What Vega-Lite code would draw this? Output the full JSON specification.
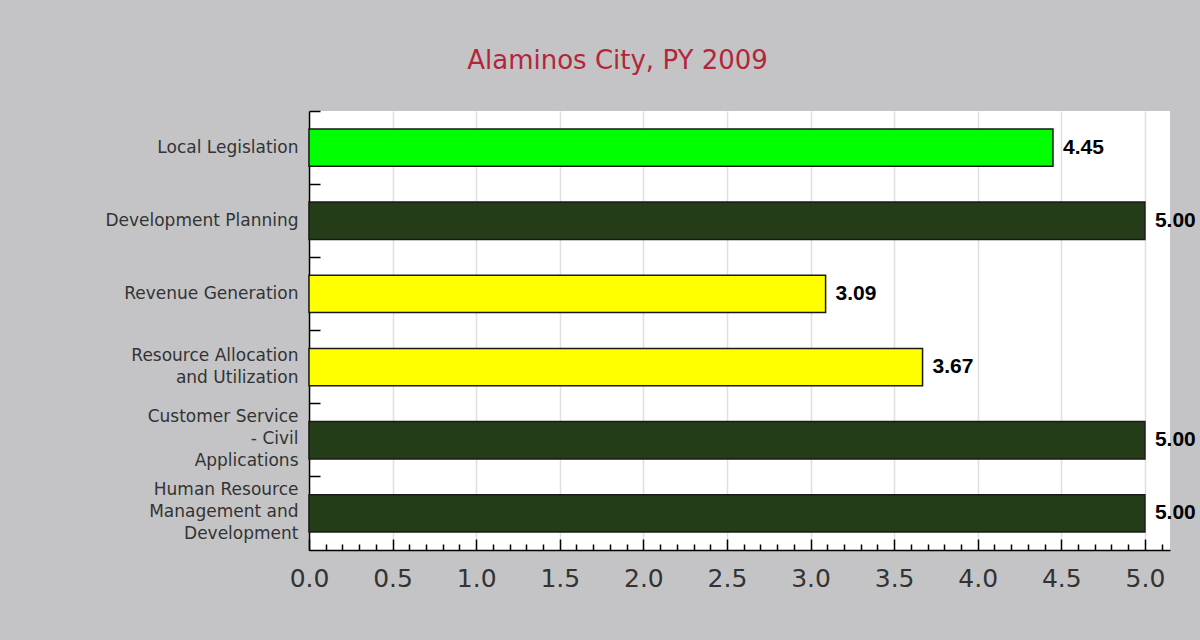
{
  "$schema": "https://vega.github.io/schema/vega-lite/v6.json",
  "width": 861,
  "height": 439,
  "autosize": "none",
  "padding": {"left": 309, "top": 111, "right": 30, "bottom": 90},
  "background": "#c4c4c7",
  "title": {
    "text": "Alaminos City, PY 2009",
    "color": "#b3263a",
    "font": "DejaVu Sans",
    "fontSize": 26,
    "fontWeight": "normal",
    "anchor": "middle",
    "frame": "group",
    "dx": -122,
    "offset": 15,
    "baseline": "alphabetic"
  },
  "config": {"view": {"fill": "white", "stroke": null}},
  "data": {
    "values": [
      {"area": "Local Legislation", "score": 4.45},
      {"area": "Development Planning", "score": 5.0},
      {"area": "Revenue Generation", "score": 3.09},
      {"area": "Resource Allocation and Utilization", "score": 3.67},
      {"area": "Customer Service - Civil Applications", "score": 5.0},
      {"area": "Human Resource Management and Development", "score": 5.0}
    ]
  },
  "encoding": {
    "y": {
      "field": "area",
      "type": "nominal",
      "sort": null,
      "scale": {"paddingInner": 0.49, "paddingOuter": 0.245},
      "axis": {
        "title": null,
        "domainColor": "black",
        "domainWidth": 1.5,
        "tickColor": "black",
        "tickWidth": 1.5,
        "tickSize": -11,
        "bandPosition": -0.48,
        "labelPadding": 22,
        "labelFont": "DejaVu Sans",
        "labelFontSize": 17,
        "labelColor": "#333333",
        "labelLineHeight": 22,
        "labelLimit": 400,
        "grid": false,
        "labelOffset": {
          "condition": [
            {"test": "datum.value == 'Resource Allocation and Utilization'", "value": -11},
            {"test": "datum.value == 'Customer Service - Civil Applications' || datum.value == 'Human Resource Management and Development'", "value": -23}
          ],
          "value": 0
        },
        "labelExpr": "datum.label == 'Resource Allocation and Utilization' ? ['Resource Allocation', 'and Utilization'] : datum.label == 'Customer Service - Civil Applications' ? ['Customer Service', '- Civil', 'Applications'] : datum.label == 'Human Resource Management and Development' ? ['Human Resource', 'Management and', 'Development'] : datum.label"
      }
    }
  },
  "layer": [
    {
      "mark": {"type": "bar", "stroke": "#1a1a1a", "strokeWidth": 1.5},
      "encoding": {
        "x": {
          "field": "score",
          "type": "quantitative",
          "scale": {"domain": [0, 5.15], "nice": false, "zero": true},
          "axis": {
            "orient": "bottom",
            "title": null,
            "values": [0, 0.5, 1, 1.5, 2, 2.5, 3, 3.5, 4, 4.5, 5],
            "format": ".1f",
            "tickSize": -11,
            "tickColor": "black",
            "tickWidth": 1.5,
            "domainColor": "black",
            "domainWidth": 1.5,
            "grid": true,
            "gridColor": "#e0e0e0",
            "gridWidth": 1.5,
            "labelFont": "DejaVu Sans",
            "labelFontSize": 25,
            "labelColor": "#333333",
            "labelPadding": 27,
            "labelFlush": false,
            "labelOverlap": false
          }
        },
        "color": {
          "field": "score",
          "type": "quantitative",
          "scale": {"type": "threshold", "domain": [4, 5], "range": ["#ffff00", "#00ff00", "#243d18"]},
          "legend": null
        }
      }
    },
    {
      "mark": {"type": "text", "align": "left", "baseline": "middle", "dx": 10, "font": "Liberation Sans", "fontWeight": "bold", "fontSize": 21, "color": "black"},
      "encoding": {
        "x": {
          "field": "score",
          "type": "quantitative",
          "scale": {"domain": [0, 5.15], "nice": false, "zero": true},
          "axis": {
            "orient": "bottom",
            "title": null,
            "values": [0.1, 0.2, 0.3, 0.4, 0.6, 0.7, 0.8, 0.9, 1.1, 1.2, 1.3, 1.4, 1.6, 1.7, 1.8, 1.9, 2.1, 2.2, 2.3, 2.4, 2.6, 2.7, 2.8, 2.9, 3.1, 3.2, 3.3, 3.4, 3.6, 3.7, 3.8, 3.9, 4.1, 4.2, 4.3, 4.4, 4.6, 4.7, 4.8, 4.9, 5.1],
            "labels": false,
            "domain": false,
            "grid": false,
            "tickSize": -6,
            "tickColor": "black",
            "tickWidth": 1.5
          }
        },
        "text": {"field": "score", "type": "quantitative", "format": ".2f"}
      }
    }
  ],
  "resolve": {"axis": {"x": "independent"}}
}
